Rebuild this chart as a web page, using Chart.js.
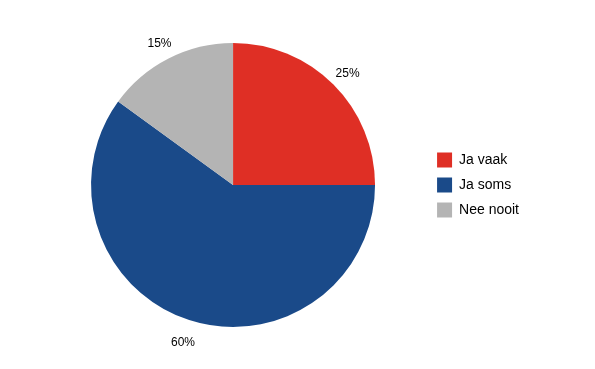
<!DOCTYPE html>
<html>
<head>
<meta charset="utf-8">
<script src="https://cdn.jsdelivr.net/npm/chart.js@4"></script>
<style>
  html, body { margin: 0; padding: 0; background: #fff; }
  #wrap { width: 595px; height: 369px; }
</style>
</head>
<body>
<div id="wrap"><canvas id="grafiek"></canvas></div>
<script>
// Data
const categorieen = ['Ja vaak', 'Ja soms', 'Nee nooit'];
const percentages = [25, 60, 15];
const kleuren = ['#DF2F25', '#1A4A89', '#B4B4B4'];

Chart.defaults.font.family = '"Liberation Sans", Arial, Helvetica, sans-serif';
Chart.defaults.color = '#000';

// Percentages buiten de taartpunten tekenen
const labelsBuiten = {
    id: 'labelsBuiten',
    afterDatasetsDraw(chart) {
        const ctx = chart.ctx;
        const meta = chart.getDatasetMeta(0);
        ctx.save();
        ctx.font = '12px "Liberation Sans", Arial, sans-serif';
        ctx.fillStyle = '#000';
        ctx.textAlign = 'center';
        ctx.textBaseline = 'middle';
        meta.data.forEach((arc, i) => {
            const p = arc.getProps(['x', 'y', 'startAngle', 'endAngle', 'outerRadius'], true);
            const mid = (p.startAngle + p.endAngle) / 2;
            const r = p.outerRadius + 20;
            ctx.fillText(percentages[i] + '%', p.x + Math.cos(mid) * r, p.y + Math.sin(mid) * r + 3.5);
        });
        ctx.restore();
    }
};

new Chart(document.getElementById('grafiek'), {
    type: 'pie',
    data: {
        labels: categorieen,
        datasets: [{
            data: percentages,
            backgroundColor: kleuren,
            borderWidth: 0
        }]
    },
    options: {
        responsive: true,
        maintainAspectRatio: false,
        animation: false,
        layout: { padding: { left: 39, right: 66, top: 43, bottom: 42 } },
        plugins: {
            tooltip: { enabled: false },
            legend: {
                position: 'right',
                labels: {
                    boxWidth: 15,
                    boxHeight: 15,
                    padding: 10,
                    font: { size: 14 }
                }
            }
        }
    },
    plugins: [labelsBuiten]
});
</script>
</body>
</html>
